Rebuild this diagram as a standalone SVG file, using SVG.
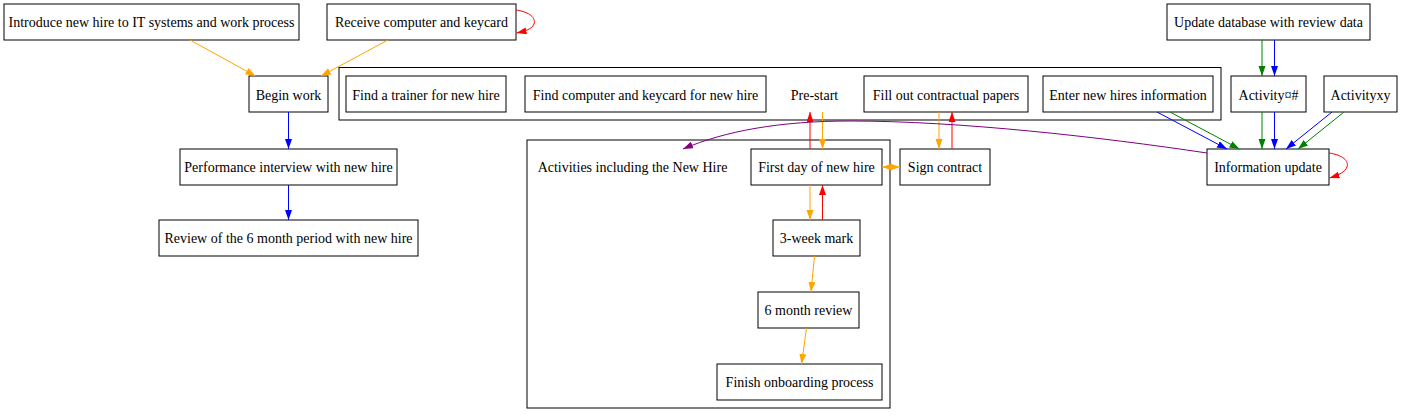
<svg xmlns="http://www.w3.org/2000/svg" width="1401" height="420" viewBox="0 0 1401 420" font-family="'Liberation Serif', 'Times New Roman', Times, serif" font-size="14">
<defs>
<style>
.n rect{fill:#fff;stroke:#000;stroke-width:1}
.c{fill:none;stroke:#000;stroke-width:1}
text{font-family:'Liberation Serif','Times New Roman',Times,serif;font-size:14px;fill:#000;text-anchor:middle}
.e path{fill:none;stroke-width:1}
.o{stroke:#FFA500}.r{stroke:#FF0000}.b{stroke:#0000FF}.g{stroke:#008000}.p{stroke:#800080}
</style>
<marker id="ao" markerUnits="userSpaceOnUse" markerWidth="10" markerHeight="8" refX="10" refY="3.5" orient="auto"><path d="M0,0L10,3.5L0,7z" fill="#FFA500"/></marker>
<marker id="ar" markerUnits="userSpaceOnUse" markerWidth="10" markerHeight="8" refX="10" refY="3.5" orient="auto"><path d="M0,0L10,3.5L0,7z" fill="#FF0000"/></marker>
<marker id="ab" markerUnits="userSpaceOnUse" markerWidth="10" markerHeight="8" refX="10" refY="3.5" orient="auto"><path d="M0,0L10,3.5L0,7z" fill="#0000FF"/></marker>
<marker id="ag" markerUnits="userSpaceOnUse" markerWidth="10" markerHeight="8" refX="10" refY="3.5" orient="auto"><path d="M0,0L10,3.5L0,7z" fill="#008000"/></marker>
<marker id="ap" markerUnits="userSpaceOnUse" markerWidth="10" markerHeight="8" refX="10" refY="3.5" orient="auto"><path d="M0,0L10,3.5L0,7z" fill="#800080"/></marker>
</defs>
<rect width="1401" height="420" fill="#fff"/>

<g id="cluster-prestart">
<rect class="c" x="339" y="67.5" width="882" height="52.5"/>
<text x="814.5" y="100">Pre-start</text>
</g>
<g id="cluster-activities">
<rect class="c" x="527" y="140" width="363" height="268"/>
<text x="632.5" y="172">Activities including the New Hire</text>
</g>

<g id="n-introduce" class="n"><rect x="4" y="4" width="295" height="36"/><text x="151.5" y="27">Introduce new hire to IT systems and work process</text></g>
<g id="n-receive" class="n"><rect x="327" y="4" width="189" height="36"/><text x="421.5" y="27">Receive computer and keycard</text></g>
<g id="n-begin" class="n"><rect x="249" y="76" width="79" height="36"/><text x="288.5" y="100">Begin work</text></g>
<g id="n-perf" class="n"><rect x="180" y="149" width="217" height="36"/><text x="288.5" y="172">Performance interview with new hire</text></g>
<g id="n-review" class="n"><rect x="159" y="220" width="259" height="36"/><text x="288.5" y="243">Review of the 6 month period with new hire</text></g>
<g id="n-trainer" class="n"><rect x="346" y="76" width="160" height="36"/><text x="426" y="100">Find a trainer for new hire</text></g>
<g id="n-findcomp" class="n"><rect x="525" y="76" width="241" height="36"/><text x="645.5" y="100">Find computer and keycard for new hire</text></g>
<g id="n-fillout" class="n"><rect x="864" y="76" width="164" height="36"/><text x="946" y="100">Fill out contractual papers</text></g>
<g id="n-enter" class="n"><rect x="1043" y="76" width="170" height="36"/><text x="1128" y="100">Enter new hires information</text></g>
<g id="n-updatedb" class="n"><rect x="1167" y="4" width="203" height="36"/><text x="1268.5" y="27">Update database with review data</text></g>
<g id="n-activity" class="n"><rect x="1231" y="76" width="75" height="36"/><text x="1268.5" y="100">Activity¤#</text></g>
<g id="n-activityxy" class="n"><rect x="1324" y="76" width="73" height="36"/><text x="1360.5" y="100">Activityxy</text></g>
<g id="n-info" class="n"><rect x="1207" y="149" width="122" height="36"/><text x="1268" y="172">Information update</text></g>
<g id="n-firstday" class="n"><rect x="751" y="149" width="131" height="36"/><text x="816.5" y="172">First day of new hire</text></g>
<g id="n-sign" class="n"><rect x="900" y="149" width="90" height="36"/><text x="945" y="172">Sign contract</text></g>
<g id="n-3week" class="n"><rect x="773" y="220" width="87" height="36"/><text x="816.5" y="243">3-week mark</text></g>
<g id="n-6month" class="n"><rect x="758" y="292" width="101" height="36"/><text x="808.5" y="315">6 month review</text></g>
<g id="n-finish" class="n"><rect x="717" y="364" width="165" height="36"/><text x="799.5" y="387">Finish onboarding process</text></g>

<g id="connectors" class="e">
<path class="o" d="M190,40L255.5,76" marker-end="url(#ao)"/>
<path class="o" d="M388,40L321,76" marker-end="url(#ao)"/>
<path class="r" d="M516,10C530,12 536,18 534,24C532,29 526,31 516.5,33" marker-end="url(#ar)"/>
<path class="b" d="M288.5,112L288.5,149" marker-end="url(#ab)"/>
<path class="b" d="M288.5,185L288.5,220" marker-end="url(#ab)"/>
<path class="r" d="M810,149L810,112" marker-end="url(#ar)"/>
<path class="o" d="M822.5,112L822.5,149" marker-end="url(#ao)"/>
<path class="o" d="M939,112L939,149" marker-end="url(#ao)"/>
<path class="r" d="M952,149L952,112" marker-end="url(#ar)"/>
<path class="o" d="M888,167L900,167" marker-end="url(#ao)"/>
<path class="o" d="M894,167L882,167" marker-end="url(#ao)"/>
<path d="M887,164.5L892,167L887,169.5z" fill="#FF0000" stroke="none"/>
<path class="p" d="M1207,153C1100,137 960,121 850,121C780,121 725,131 683,149" marker-end="url(#ap)"/>
<path class="b" d="M1157,112L1227,149" marker-end="url(#ab)"/>
<path class="g" d="M1170,112L1239.5,149" marker-end="url(#ag)"/>
<path class="g" d="M1262,40L1262,76" marker-end="url(#ag)"/>
<path class="b" d="M1274.5,40L1274.5,76" marker-end="url(#ab)"/>
<path class="g" d="M1262,112L1262,149" marker-end="url(#ag)"/>
<path class="b" d="M1274.5,112L1274.5,149" marker-end="url(#ab)"/>
<path class="b" d="M1332,112L1286,149" marker-end="url(#ab)"/>
<path class="g" d="M1344,112L1298,149" marker-end="url(#ag)"/>
<path class="r" d="M1329,153C1343,155 1349,161 1347,167C1345,172 1339,175 1329.5,178" marker-end="url(#ar)"/>
<path class="o" d="M810,185L810,220" marker-end="url(#ao)"/>
<path class="r" d="M822.5,220L822.5,185" marker-end="url(#ar)"/>
<path class="o" d="M814.5,256L811,292" marker-end="url(#ao)"/>
<path class="o" d="M806.5,328L801.5,364" marker-end="url(#ao)"/>
</g>
</svg>
